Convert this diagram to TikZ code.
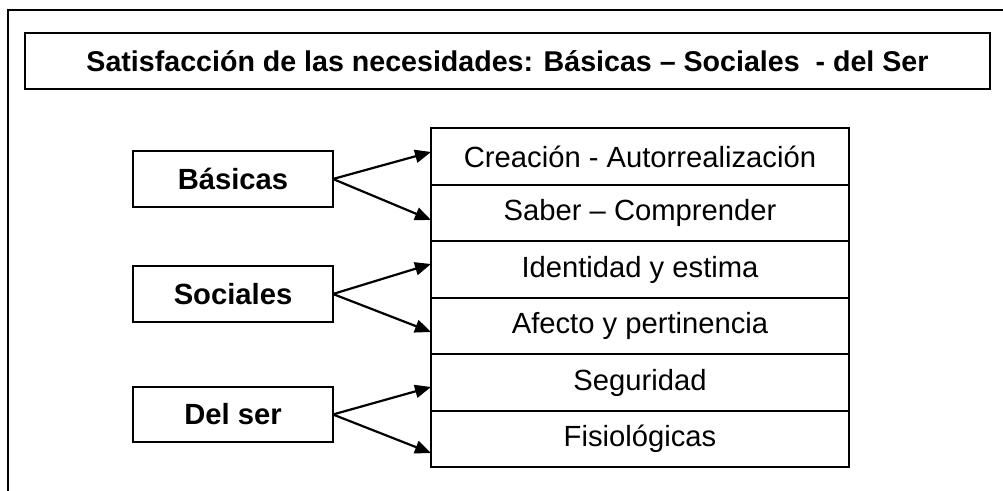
\documentclass[tikz,border=0pt]{standalone}
\usepackage{fontspec}
\setmainfont{Liberation Sans}
\usetikzlibrary{arrows.meta}

\begin{document}
\begin{tikzpicture}[x=0.5pt,y=-0.5pt,
		caja/.style={draw,line width=1pt,inner sep=0pt,outer sep=0pt,font=\fontsize{14.6}{17}\selectfont},
		grupo/.style={caja,minimum width=100pt,minimum height=28pt,font=\fontsize{14.6}{17}\selectfont\bfseries},
		nivel/.style={caja,minimum width=209pt,minimum height=28.25pt},
		flecha/.style={line width=1.1pt,-{Triangle[length=8pt,width=6.5pt]}}]
		\useasboundingbox (0,0) rectangle (1003,491);
		\clip (0,0) rectangle (1003,491);
		% marco exterior
		\draw[line width=1pt] (8,520) -- (8,10) -- (1030,10);
		\node[caja,minimum width=482.5pt,minimum height=28pt,font=\fontsize{14.3}{17}\selectfont\bfseries] (titulo) at (507.5,61)
			{Satisfacción de las necesidades: Básicas – Sociales \ - del Ser};
		% grupos
		\node[grupo] (basicas) at (233,179) {Básicas};
		\node[grupo] (sociales) at (233,294) {Sociales};
		\node[grupo,minimum height=27.5pt] (delser) at (233,414.5) {Del ser};
		% niveles
		\node[nivel] (n1) at (640,156.5) {Creación - Autorrealización};
		\node[nivel] (n2) at (640,213) {Saber – Comprender};
		\node[nivel] (n3) at (640,269.5) {Identidad y estima};
		\node[nivel] (n4) at (640,326) {Afecto y pertinencia};
		\node[nivel] (n5) at (640,382.5) {Seguridad};
		\node[nivel] (n6) at (640,439) {Fisiológicas};
		% flechas
		\draw[flecha] (basicas.east) -- ([yshift=2.25pt]n1.west);
		\draw[flecha] (basicas.east) -- ([yshift=-3.5pt]n2.west);
		\draw[flecha] (sociales.east) -- ([yshift=2.75pt]n3.west);
		\draw[flecha] (sociales.east) -- ([yshift=-3pt]n4.west);
		\draw[flecha] (delser.east) -- ([yshift=-2.25pt]n5.west);
		\draw[flecha] (delser.east) -- ([yshift=-7pt]n6.west);
\end{tikzpicture}
\end{document}
